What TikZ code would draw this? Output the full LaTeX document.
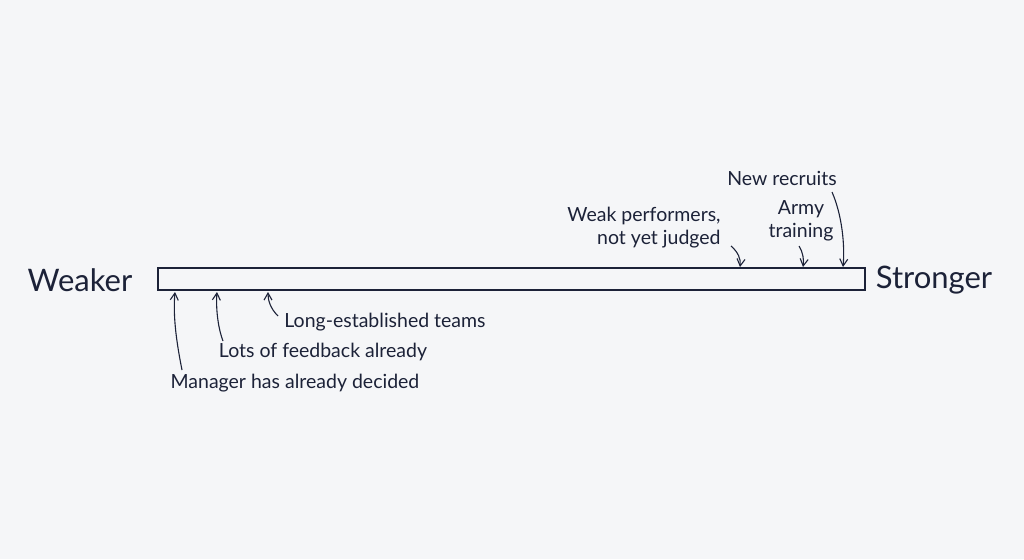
\documentclass[tikz,border=0pt]{standalone}
\usepackage{fontspec}
\setmainfont{Lato}
\usetikzlibrary{arrows.meta}
\definecolor{ink}{RGB}{28,34,56}
\definecolor{paper}{RGB}{245,246,248}
\begin{document}
\begin{tikzpicture}[x=1pt,y=-1pt,
	note/.style={text=ink,font=\fontsize{19.5}{23}\selectfont,inner sep=0pt},
	pole/.style={text=ink,font=\fontsize{31}{35}\selectfont,inner sep=0pt},
	pointer/.style={draw=ink,line width=1.1pt,-{Straight Barb[length=7pt,width=8pt]}}]
		\fill[paper] (0,0) rectangle (1024,559);
		\draw[ink,line width=1.4pt] (158,268) rectangle (865,290);
		\node[pole] (weak) at (80,280) {Weaker};
		\node[pole] (strong) at (934,280) {Stronger};

		% below the bar
		\node[note] (teams) at (385,322) {Long-established teams};
		\node[note] (feedback) at (323,352) {Lots of feedback already};
		\node[note] (manager) at (295,383) {Manager has already decided};
		\draw[pointer] (182,370) .. controls (176,340) and (173,315) .. (175,292);
		\draw[pointer] (223,341) .. controls (217,325) and (216,305) .. (217,292);
		\draw[pointer] (278,316) .. controls (270,308) and (268,300) .. (268,292);

		% above the bar
		\node[note,align=right] (judged) at (644,228) {Weak performers,\\not yet judged};
		\node[note,align=center] (army) at (801,221) {Army\\training};
		\node[note] (recruits) at (782,178) {New recruits};
		\draw[pointer] (731,246) .. controls (738,252) and (741,259) .. (740,267);
		\draw[pointer] (799,246) .. controls (803,252) and (804,260) .. (803,267);
		\draw[pointer] (832,192) .. controls (842,215) and (845,245) .. (843,267);
\end{tikzpicture}
\end{document}
